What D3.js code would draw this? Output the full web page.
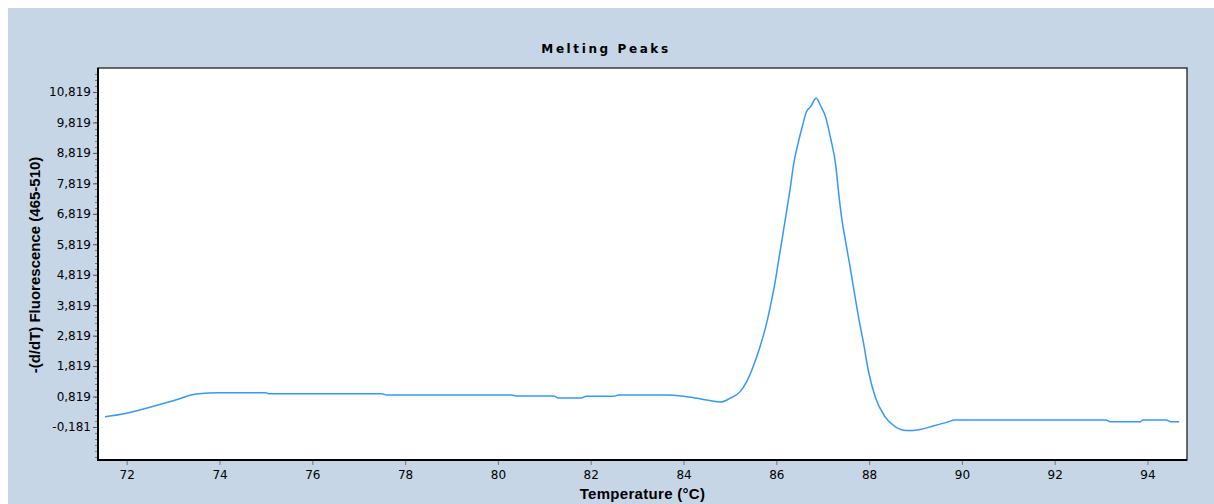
<!DOCTYPE html>
<html>
<head>
<meta charset="utf-8">
<script src="https://cdn.jsdelivr.net/npm/d3@7"></script>
<style>
  html, body { margin: 0; padding: 0; background: #ffffff; }
  svg { display: block; }
</style>
</head>
<body>
<svg id="chart" width="1214" height="504"></svg>
<script>
// ---- data ----
const temperature = [71.53, 72.0, 72.5, 73.0, 73.5, 74.0, 75.0, 75.05, 77.5, 77.6, 80.3, 80.4, 81.2, 81.3,
  81.8, 81.9, 82.5, 82.6, 83.6, 84.0, 84.3, 84.6, 84.8, 85.0, 85.22, 85.36, 85.5, 85.65, 85.79, 85.9,
  85.97, 86.04, 86.15, 86.22, 86.3, 86.37, 86.47, 86.55, 86.65, 86.74, 86.86, 86.96, 87.06, 87.17,
  87.28, 87.34, 87.41, 87.48, 87.57, 87.66, 87.77, 87.88, 87.98, 88.13, 88.34, 88.56, 88.81, 89.1,
  89.38, 89.67, 89.85, 93.1, 93.2, 93.85, 93.9, 94.4, 94.5, 94.68];
const fluorescence = [0.157, 0.27, 0.47, 0.68, 0.90, 0.945, 0.945, 0.913, 0.913, 0.87, 0.87, 0.84, 0.84, 0.77,
  0.77, 0.83, 0.83, 0.87, 0.87, 0.83, 0.76, 0.68, 0.64, 0.76, 0.98, 1.31, 1.80, 2.46, 3.22, 3.99,
  4.54, 5.20, 6.23, 6.89, 7.66, 8.42, 9.14, 9.63, 10.17, 10.34, 10.61, 10.35, 10.01, 9.30,
  8.42, 7.55, 6.67, 6.02, 5.25, 4.43, 3.44, 2.57, 1.69, 0.81, 0.16, -0.17, -0.30, -0.26,
  -0.15, -0.03, 0.05, 0.05, -0.01, -0.01, 0.05, 0.05, -0.01, -0.01];
const xTicks = [72, 74, 76, 78, 80, 82, 84, 86, 88, 90, 92, 94];
const yTicks = [-0.181, 0.819, 1.819, 2.819, 3.819, 4.819, 5.819, 6.819, 7.819, 8.819, 9.819, 10.819];
const yMinorStep = 0.2;
const title = "Melting Peaks";
const xTitle = "Temperature (°C)";
const yTitle = "-(d/dT) Fluorescence (465-510)";

// ---- layout ----
const svg = d3.select("#chart");
const W = 1214, H = 504;
const plot = { left: 98, top: 68, right: 1187, bottom: 460 };

svg.append("rect").attr("x", 8).attr("y", 8).attr("width", W - 8).attr("height", H - 8)
  .attr("fill", "#c6d6e6");

const x = d3.scaleLinear().domain([71.381, 94.851]).range([plot.left, plot.right]);
const y = d3.scaleLinear().domain([-1.2646, 11.607]).range([plot.bottom, plot.top]);

svg.append("rect")
  .attr("x", plot.left).attr("y", plot.top)
  .attr("width", plot.right - plot.left).attr("height", plot.bottom - plot.top)
  .attr("fill", "#ffffff").attr("stroke", "#3a3a3a").attr("stroke-width", 1.5);

const yFmt = v => v.toFixed(3).replace(".", ",");

// minor y ticks
const minor = [];
for (let v = -0.181 - 5 * yMinorStep; v <= 11.607; v += yMinorStep) {
  if (v >= -1.2646) minor.push(+v.toFixed(3));
}
svg.append("g").selectAll("line").data(minor).join("line")
  .attr("x1", plot.left - 3).attr("x2", plot.left)
  .attr("y1", d => Math.round(y(d)) + 0.5).attr("y2", d => Math.round(y(d)) + 0.5)
  .attr("stroke", "#777").attr("stroke-width", 1);

// y axis
const yAxis = d3.axisLeft(y).tickValues(yTicks).tickFormat(yFmt).tickSize(5).tickPadding(2);
const gy = svg.append("g").attr("transform", `translate(${plot.left},0)`).call(yAxis);
gy.select(".domain").remove();
gy.selectAll(".tick line").attr("stroke", "#555");
gy.selectAll(".tick text").attr("font-family", "DejaVu Sans").attr("font-size", 12).attr("fill", "#000");

// x axis
const xAxis = d3.axisBottom(x).tickValues(xTicks).tickFormat(d3.format("d")).tickSize(5).tickPadding(5);
const gx = svg.append("g").attr("transform", `translate(0,${plot.bottom})`).call(xAxis);
gx.select(".domain").remove();
gx.selectAll(".tick line").attr("stroke", "#777");
gx.selectAll(".tick text").attr("font-family", "DejaVu Sans").attr("font-size", 12).attr("fill", "#000");

// axis lines (left + bottom, heavier)
svg.append("line").attr("x1", plot.left).attr("x2", plot.left).attr("y1", plot.top).attr("y2", plot.bottom + 1)
  .attr("stroke", "#000").attr("stroke-width", 2);
svg.append("line").attr("x1", plot.left - 1).attr("x2", plot.right).attr("y1", plot.bottom).attr("y2", plot.bottom)
  .attr("stroke", "#000").attr("stroke-width", 2);

// curve
const pts = temperature.map((t, i) => [t, fluorescence[i]]);
const line = d3.line().x(d => x(d[0])).y(d => y(d[1])).curve(d3.curveMonotoneX);
svg.append("path").datum(pts).attr("d", line)
  .attr("fill", "none").attr("stroke", "#3399ff").attr("stroke-width", 1.5);

// titles
svg.append("text").attr("x", 606).attr("y", 53).attr("text-anchor", "middle")
  .attr("font-family", "DejaVu Sans").attr("font-weight", "bold").attr("font-size", 12)
  .attr("letter-spacing", 2.6).text(title);

svg.append("text").attr("x", (plot.left + plot.right) / 2).attr("y", 499).attr("text-anchor", "middle")
  .attr("font-family", "Liberation Sans").attr("font-weight", "bold").attr("font-size", 15)
  .attr("letter-spacing", 0.3).text(xTitle);

svg.append("text").attr("transform", `translate(40,265) rotate(-90)`).attr("text-anchor", "middle")
  .attr("font-family", "Liberation Sans").attr("font-weight", "bold").attr("font-size", 15)
  .text(yTitle);
</script>
</body>
</html>
